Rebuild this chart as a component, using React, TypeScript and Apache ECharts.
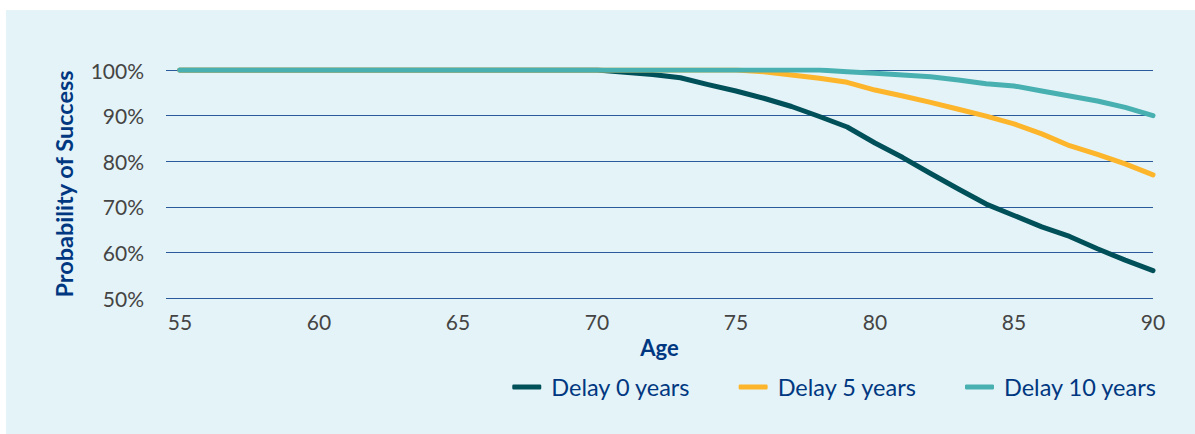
import React, { useEffect, useRef } from "react";
import * as echarts from "echarts";

const ages = [55,56,57,58,59,60,61,62,63,64,65,66,67,68,69,70,71,72,73,74,75,76,77,78,79,80,81,82,83,84,85,86,87,88,89,90];
const delay0 = [100,100,100,100,100,100,100,100,100,100,100,100,100,100,100,100,99.5,99,98.3,96.8,95.4,93.8,92,89.8,87.5,84,80.8,77.3,73.9,70.6,68.1,65.6,63.5,60.8,58.3,56];
const delay5 = [100,100,100,100,100,100,100,100,100,100,100,100,100,100,100,100,100,100,100,100,100,99.6,98.9,98.2,97.3,95.6,94.3,92.9,91.4,89.9,88.2,86,83.4,81.5,79.4,77];
const delay10 = [100,100,100,100,100,100,100,100,100,100,100,100,100,100,100,100,100,100,100,100,100,100,100,100,99.6,99.3,98.9,98.5,97.8,97,96.5,95.4,94.3,93.2,91.8,90];
const xTicks = [55, 60, 65, 70, 75, 80, 85, 90];
const seriesNames = ["Delay 0 years", "Delay 5 years", "Delay 10 years"];
const seriesColors = ["#00505A", "#FDB52B", "#48B0B0"];

const FONT = "Lato, sans-serif";

export default function App() {
  const ref = useRef<HTMLDivElement>(null);
  useEffect(() => {
    if (!ref.current) return;
    const chart = echarts.init(ref.current, null, { renderer: "svg" });
    const data = [delay0, delay5, delay10];
    chart.setOption({
      animation: false,
      backgroundColor: "#ffffff",
      graphic: [
        { type: "rect", z: -10, shape: { x: 6, y: 10, width: 1189, height: 424 }, style: { fill: "#E4F3F7" } },
      ],
      grid: { left: 166, right: 42, top: 70, bottom: 136 },
      legend: {
        right: 33,
        top: 370,
        itemWidth: 29,
        itemHeight: 5,
        itemGap: 48,
        icon: "roundRect",
        data: seriesNames,
        textStyle: { color: "#003781", fontSize: 23.5, fontFamily: FONT, padding: [0, 0, 0, 5] },
      },
      xAxis: {
        type: "value",
        min: 54.5,
        max: 90,
        name: "Age",
        nameLocation: "middle",
        nameGap: 38,
        nameTextStyle: { color: "#003781", fontSize: 22, fontWeight: "bold", fontFamily: FONT },
        axisLine: { show: false },
        axisTick: { show: false },
        splitLine: { show: false },
        axisLabel: {
          customValues: xTicks,
          color: "#444444",
          fontSize: 21,
          fontFamily: FONT,
          margin: 13,
        },
      },
      yAxis: {
        type: "value",
        min: 50,
        max: 100,
        interval: 10,
        name: "Probability of Success",
        nameLocation: "middle",
        nameGap: 90,
        nameTextStyle: { color: "#003781", fontSize: 23.5, fontWeight: "bold", fontFamily: FONT },
        axisLine: { show: false },
        axisTick: { show: false },
        axisLabel: {
          formatter: "{value}%",
          color: "#444444",
          fontSize: 21,
          fontFamily: FONT,
          margin: 22,
        },
        splitLine: { show: true, lineStyle: { color: "#2A5A9A", width: 1 } },
      },
      series: seriesNames.map((name, i) => ({
        name,
        type: "line",
        data: ages.map((a, j) => [a, data[i][j]]),
        showSymbol: false,
        symbol: "none",
        color: seriesColors[i],
        lineStyle: { width: 5, color: seriesColors[i], cap: "round", join: "round" },
      })),
    });
    return () => chart.dispose();
  }, []);
  return <div ref={ref} style={{ position: "absolute", left: 0, top: 0, width: 1195, height: 434 }} />;
}
